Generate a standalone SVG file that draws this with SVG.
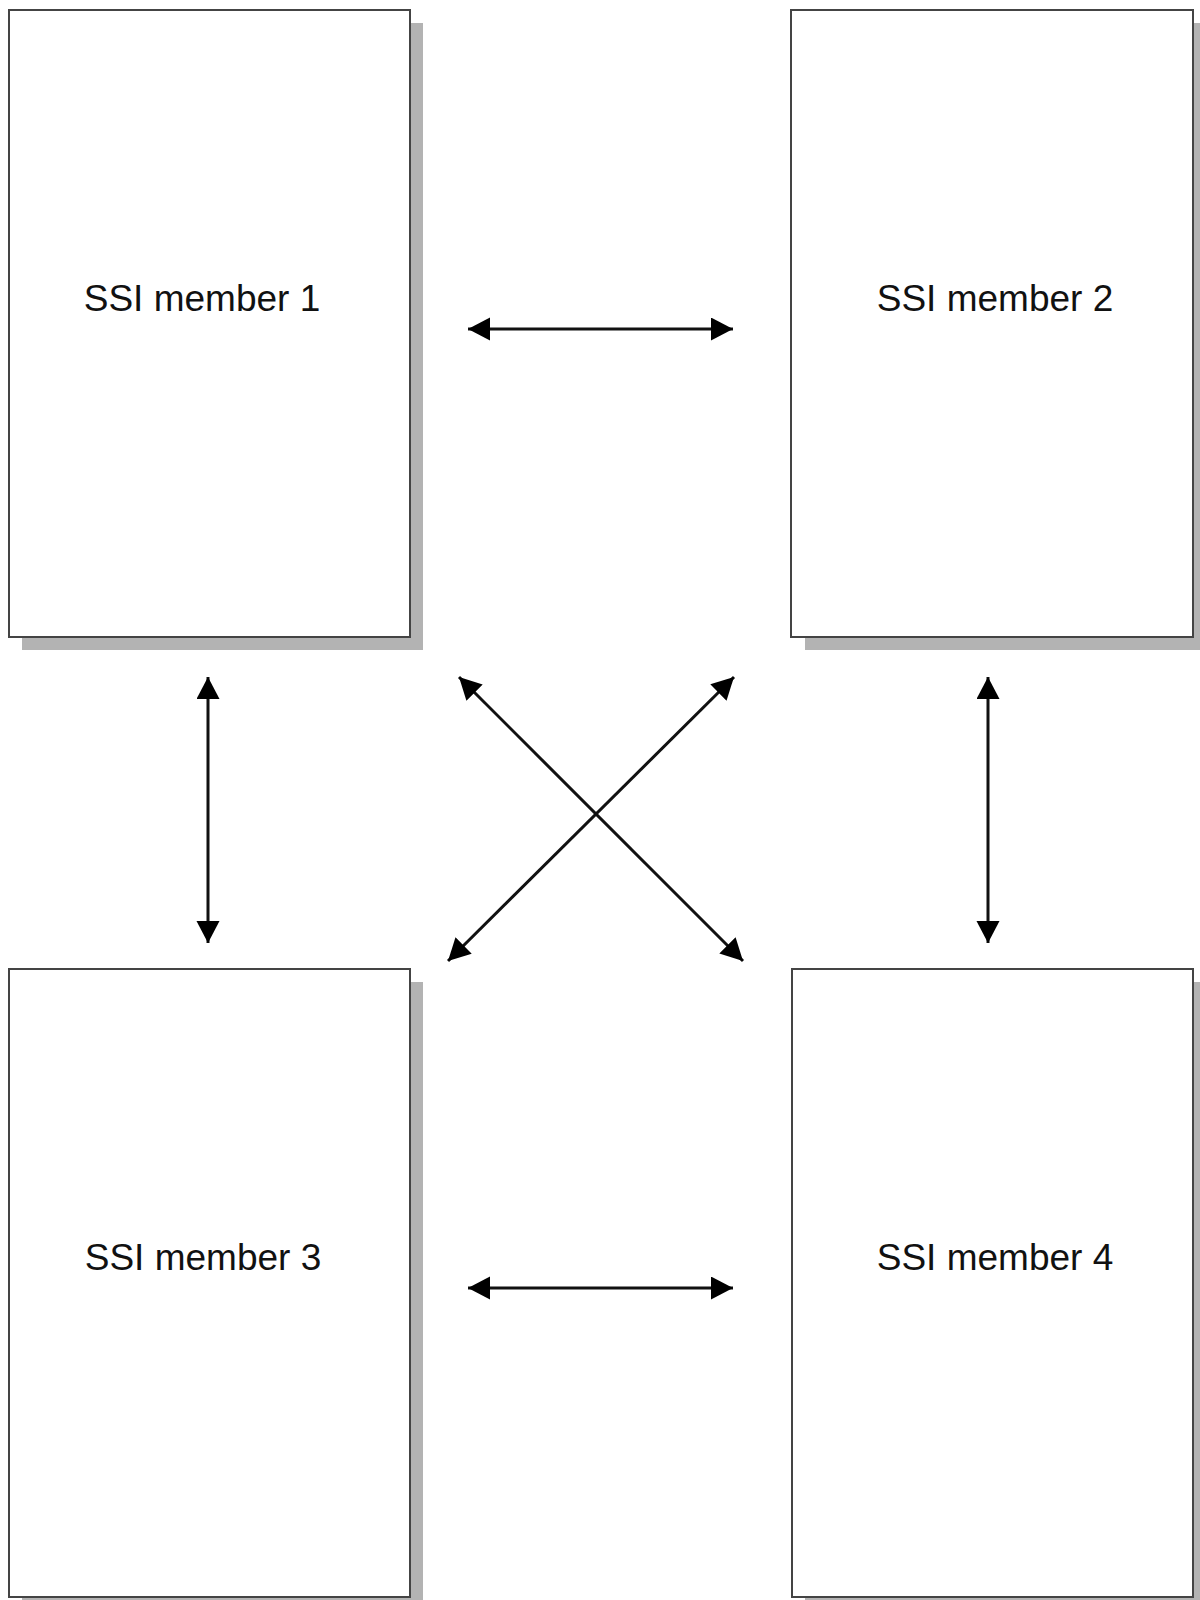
<svg xmlns="http://www.w3.org/2000/svg" width="1200" height="1600" viewBox="0 0 1200 1600">
<style>
.shadow{fill:#b3b3b3;}
.box{fill:#ffffff;stroke:#444444;stroke-width:2;}
.lbl{font-family:"Liberation Sans",Arial,sans-serif;font-size:37px;fill:#111;text-anchor:middle;}
.conn{stroke:#111;stroke-width:3;fill:none;marker-start:url(#ah);marker-end:url(#ah);}
</style>
<defs>
<marker id="ah" markerUnits="userSpaceOnUse" markerWidth="24" markerHeight="24" viewBox="0 0 24 24" refX="22" refY="11.5" orient="auto-start-reverse">
<path d="M0,0 L22,11.5 L0,23 Z" fill="#000"/>
</marker>
</defs>
<rect width="1200" height="1600" fill="#fff"/>
<g id="node1">
<rect class="shadow" x="22" y="23" width="401" height="627"/>
<rect class="box" x="9" y="10" width="401" height="627"/>
<text class="lbl" x="202" y="311">SSI member 1</text>
</g>
<g id="node2">
<rect class="shadow" x="805" y="23" width="402" height="627"/>
<rect class="box" x="791" y="10" width="402" height="627"/>
<text class="lbl" x="995" y="311">SSI member 2</text>
</g>
<g id="node3">
<rect class="shadow" x="22" y="982" width="401" height="628"/>
<rect class="box" x="9" y="969" width="401" height="628"/>
<text class="lbl" x="203" y="1270">SSI member 3</text>
</g>
<g id="node4">
<rect class="shadow" x="805" y="982" width="401" height="628"/>
<rect class="box" x="792" y="969" width="401" height="628"/>
<text class="lbl" x="995" y="1270">SSI member 4</text>
</g>
<g id="connectors">
<line class="conn" x1="468" y1="329" x2="733" y2="329"/>
<line class="conn" x1="468" y1="1288" x2="733" y2="1288"/>
<line class="conn" x1="208" y1="677" x2="208" y2="943"/>
<line class="conn" x1="988" y1="677" x2="988" y2="943"/>
<line class="conn" x1="459" y1="677" x2="743" y2="961"/>
<line class="conn" x1="734" y1="677" x2="448" y2="961"/>
</g>
</svg>
